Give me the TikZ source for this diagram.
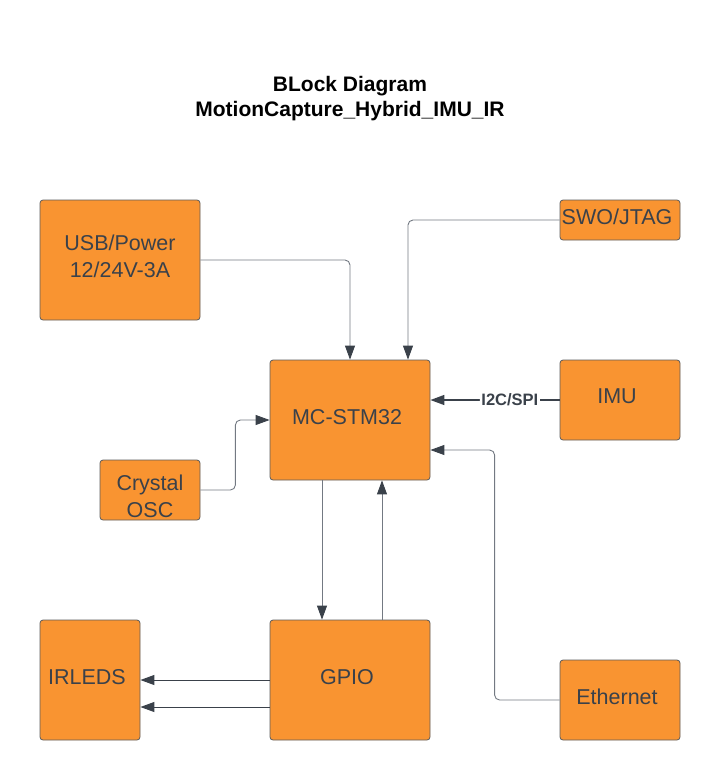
\documentclass[tikz,border=0pt]{standalone}
\usepackage{fontspec}
\setmainfont{Liberation Sans}
\usetikzlibrary{positioning, arrows.meta}

\definecolor{boxfill}{HTML}{F99431}
\definecolor{boxline}{HTML}{5C5C5C}
\definecolor{textdark}{HTML}{3A414A}
\definecolor{wiregray}{HTML}{737982}

\begin{document}
\begin{tikzpicture}[x = 1pt, y = -1pt,
    block/.style = { draw = boxline, fill = boxfill, rounded corners = 3pt,
                     line width = .8pt, align = center, text = textdark,
                     font = \fontsize{21.5}{27}\selectfont, inner sep = 0pt,
                     text depth = 7pt },
    link/.style = { draw = wiregray, line width = .9pt, rounded corners = 5pt,
                    -{Triangle[length = 14pt, width = 10pt, color = textdark]} },
    bus/.style = { link, draw = textdark, line width = 1.4pt }]
  \useasboundingbox (0,0) rectangle (720,780);

  \node (title) [align = center, font = \fontsize{21}{25}\selectfont\bfseries]
    at (350,99) { BLock Diagram \\ MotionCapture\_Hybrid\_IMU\_IR };

  \node (usb) [block, minimum width = 160pt, minimum height = 120pt] at (120,260) { USB/Power \\ 12/24V-3A };
  \node (swo) [block, minimum width = 120pt, minimum height = 40pt] at (620,220) { SWO/JTAG };
  \node (mcu) [block, minimum width = 160pt, minimum height = 120pt] at (350,420) { MC-STM32 };
  \node (imu) [block, minimum width = 120pt, minimum height = 80pt] at (620,400) { IMU };
  \node (xtal) [block, minimum width = 100pt, minimum height = 60pt, text depth = 0pt, text height = 54pt]
    at (150,490) { Crystal \\ OSC };
  \node (irled) [block, minimum width = 100pt, minimum height = 120pt] at (90,680) { IRLEDS };
  \node (gpio) [block, minimum width = 160pt, minimum height = 120pt] at (350,680) { GPIO };
  \node (eth) [block, minimum width = 120pt, minimum height = 80pt] at (620,700) { Ethernet };

  % into the controller
  \draw [link] (usb.east) -| (mcu.north);
  \draw [link] (swo.west) -| ([xshift = 58pt]mcu.north);
  \draw [bus] (imu.west) -- (mcu.east |- imu.west)
    node [pos = .385, fill = white, inner sep = 1.5pt, text = textdark,
          font = \fontsize{16.5}{18}\selectfont\bfseries] { I2C/SPI };
  \draw [link] (xtal.east) -- ++(35,0) |- (mcu.west);
  \draw [link] (eth.west) -- ++(-65,0) |- ([yshift = -30pt]mcu.east);

  % controller <-> GPIO
  \draw [link] ([xshift = -28pt]mcu.south) -- ([xshift = -28pt]gpio.north);
  \draw [link] ([xshift = 32pt]gpio.north) -- ([xshift = 32pt]mcu.south);

  % GPIO to LEDs
  \draw [bus, line width = 1pt] (gpio.west) -- (irled.east);
  \draw [bus, line width = 1pt] ([yshift = -27pt]gpio.west) -- ([yshift = -27pt]irled.east);
\end{tikzpicture}
\end{document}
